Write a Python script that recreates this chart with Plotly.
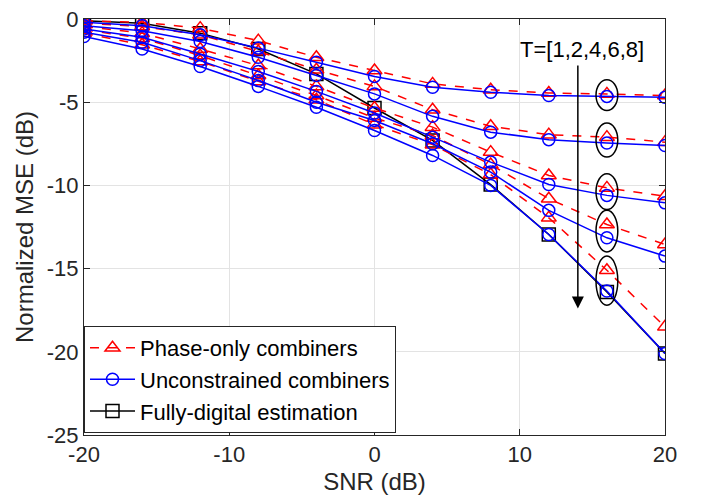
import plotly.graph_objects as go

# SNR points (dB)
snr = [-20, -16, -12, -8, -4, 0, 4, 8, 12, 16, 20]

# normalized MSE (dB) for T = 1, 2, 4, 6, 8
phase_only = [
    [-0.1, -0.2, -0.55, -1.3, -2.3, -3.1, -3.9, -4.25, -4.45, -4.5, -4.6],
    [-0.25, -0.45, -0.95, -1.95, -3.05, -4.05, -5.45, -6.45, -6.95, -7.1, -7.4],
    [-0.45, -0.85, -1.8, -2.8, -4.05, -5.35, -6.5, -8.0, -9.4, -10.15, -10.65],
    [-0.65, -1.15, -2.2, -3.4, -4.6, -5.95, -7.0, -8.75, -10.8, -12.35, -13.55],
    [-0.85, -1.55, -2.55, -3.75, -4.85, -6.35, -7.55, -9.35, -11.95, -15.1, -18.5],
]
unconstrained = [
    [-0.2, -0.4, -0.95, -1.75, -2.6, -3.45, -4.1, -4.4, -4.6, -4.65, -4.7],
    [-0.4, -0.7, -1.35, -2.3, -3.4, -4.5, -5.85, -6.8, -7.25, -7.45, -7.6],
    [-0.6, -1.1, -2.1, -3.15, -4.35, -5.65, -7.1, -8.6, -9.95, -10.6, -11.05],
    [-0.8, -1.4, -2.5, -3.7, -5.0, -6.1, -7.5, -9.2, -11.5, -13.15, -14.25],
    [-1.05, -1.8, -2.85, -4.05, -5.3, -6.7, -8.2, -10.0, -12.95, -16.35, -20.1],
]
fully_digital = [-0.1, -0.25, -0.85, -1.8, -3.3, -5.35, -7.3, -9.95, -12.95, -16.4, -20.1]

x_ticks = [-20, -10, 0, 10, 20]
x_ticktext = ["-20", "-10", "0", "10", "20"]
y_ticks = [-25, -20, -15, -10, -5, 0]
y_ticktext = ["-25", "-20", "-15", "-10", "-5", "0"]

ellipse_snr = 16
T_label = "T=[1,2,4,6,8]"

AX = "#262626"
FONT = "Liberation Sans, Arial, sans-serif"

fig = go.Figure()

fig.add_trace(go.Scatter(
    x=snr, y=fully_digital, mode="lines+markers", name="Fully-digital estimation",
    line=dict(color="black", width=1.5),
    marker=dict(symbol="square-open", size=13, color="black", line=dict(width=1.5)),
    legendrank=3,
))

for i, ys in enumerate(phase_only):
    fig.add_trace(go.Scatter(
        x=snr, y=ys, mode="lines+markers", name="Phase-only combiners",
        legendgroup="po", showlegend=(i == 0), legendrank=1,
        line=dict(color="#ff0000", width=1.5, dash="dash"),
        marker=dict(symbol="triangle-up-open", size=13, color="#ff0000", line=dict(width=1.5)),
    ))

for i, ys in enumerate(unconstrained):
    fig.add_trace(go.Scatter(
        x=snr, y=ys, mode="lines+markers", name="Unconstrained combiners",
        legendgroup="uc", showlegend=(i == 0), legendrank=2,
        line=dict(color="#0000ff", width=1.5),
        marker=dict(symbol="circle-open", size=12, color="#0000ff", line=dict(width=1.5)),
    ))

# ellipses around each T group at SNR = 16 dB
k = snr.index(ellipse_snr)
for po, uc in zip(phase_only, unconstrained):
    top = max(po[k], uc[k]) + 0.85
    bot = min(po[k], uc[k]) - 0.85
    fig.add_shape(type="circle", xref="x", yref="y",
                  x0=ellipse_snr - 0.75, x1=ellipse_snr + 0.75, y0=bot, y1=top,
                  line=dict(color="black", width=1.5))

# arrow showing increasing T
fig.add_annotation(x=14, y=-17.4, ax=14, ay=-2.7, xref="x", yref="y", axref="x", ayref="y",
                   showarrow=True, arrowhead=2, arrowsize=1.6, arrowwidth=1.5,
                   arrowcolor="black", text="")
fig.add_annotation(x=14.3, y=-1.85, xref="x", yref="y", text=T_label, showarrow=False,
                   font=dict(size=22, color="black", family=FONT))

fig.update_xaxes(
    range=[-20, 20], tickvals=x_ticks, ticktext=x_ticktext, automargin=False,
    showgrid=True, gridcolor="#e3e3e3", gridwidth=1, zeroline=False,
    showline=True, linecolor=AX, linewidth=1, mirror="ticks",
    ticks="inside", ticklen=6, tickcolor=AX, ticklabeloverflow="allow",
    tickfont=dict(size=22, color=AX, family=FONT),
    title=dict(text="SNR (dB)", font=dict(size=24, color=AX, family=FONT), standoff=6),
)
fig.update_yaxes(
    range=[-25, 0], tickvals=y_ticks, ticktext=y_ticktext, automargin=False,
    showgrid=True, gridcolor="#e3e3e3", gridwidth=1, zeroline=False,
    showline=True, linecolor=AX, linewidth=1, mirror="ticks",
    ticks="inside", ticklen=6, tickcolor=AX, ticklabeloverflow="allow",
    tickfont=dict(size=22, color=AX, family=FONT),
    title=dict(text="Normalized MSE (dB)", font=dict(size=24, color=AX, family=FONT), standoff=6),
)

# page body adds an 8px offset, so the figure is 8px smaller on each side
fig.update_layout(
    width=697, height=496,
    margin=dict(l=76, r=40, t=11, b=69),
    plot_bgcolor="white", paper_bgcolor="white",
    font=dict(family=FONT, color=AX),
    legend=dict(x=0, y=0.005, xanchor="left", yanchor="bottom",
                bgcolor="white", bordercolor=AX, borderwidth=1,
                font=dict(size=22, color="black", family=FONT),
                itemwidth=45, tracegroupgap=0),
)

fig.write_html("out.html")
